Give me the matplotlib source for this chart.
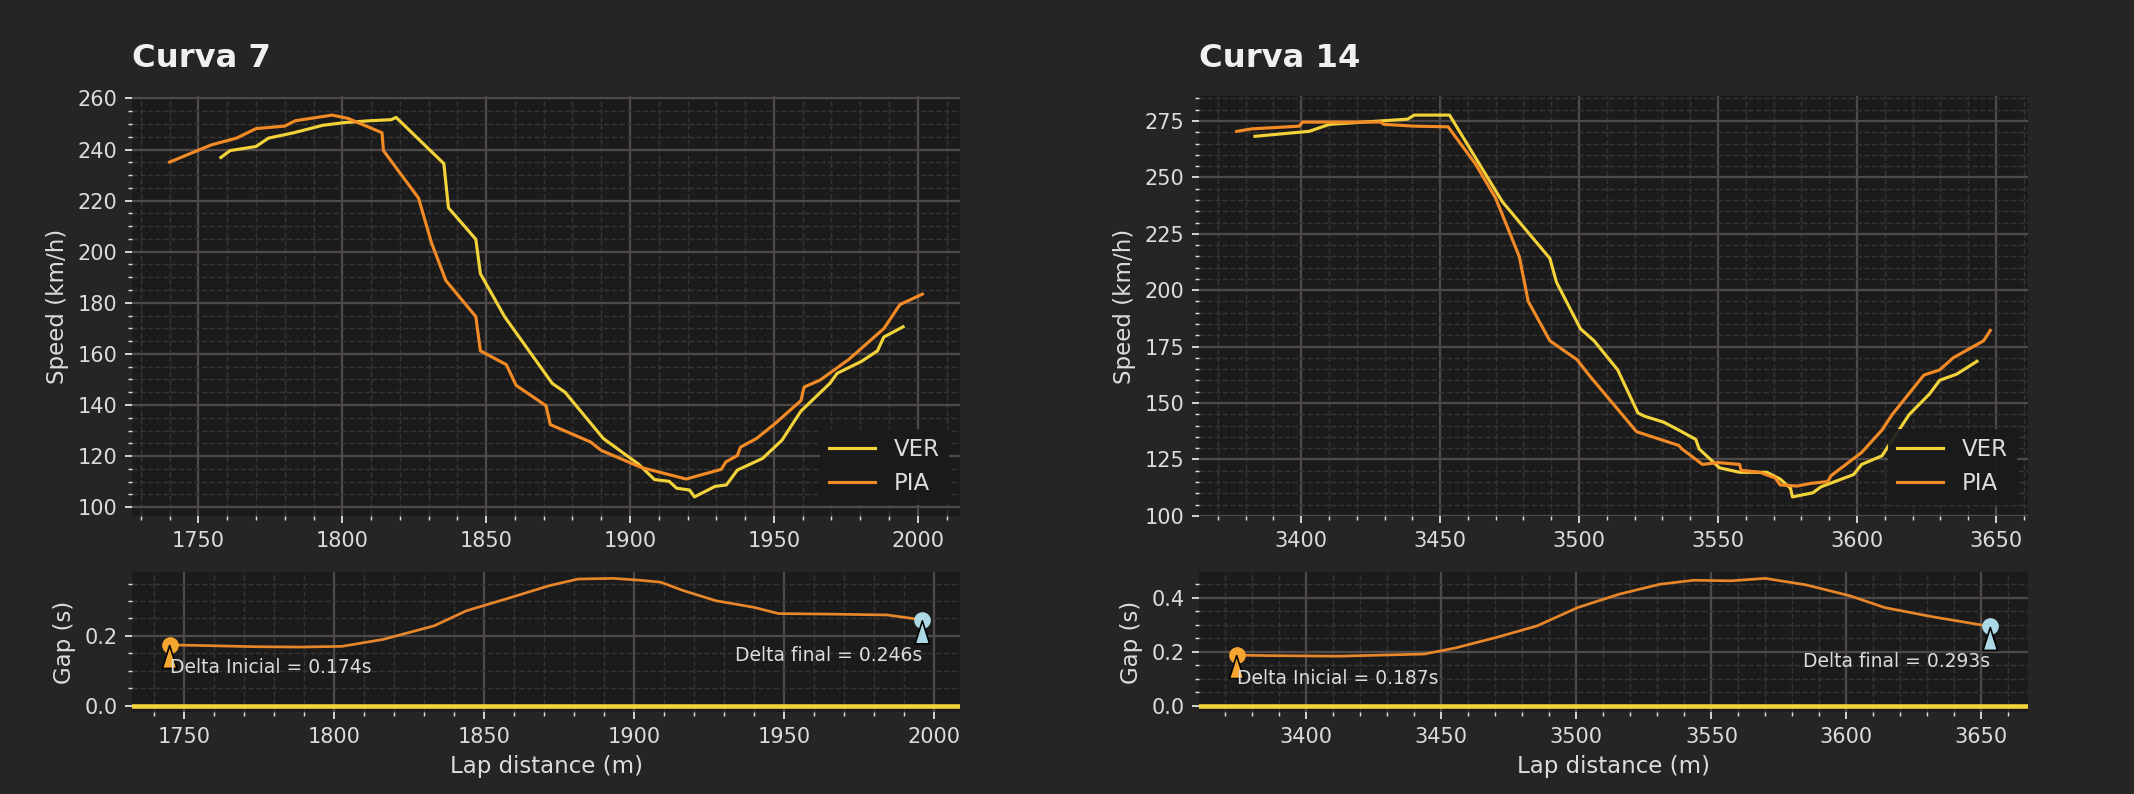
import matplotlib
matplotlib.use("Agg")
import matplotlib.pyplot as plt
from matplotlib.ticker import AutoMinorLocator

# ---------------- data ----------------
c7_ver_dist = [1757.8, 1761, 1770, 1774.4, 1783.2, 1793.2, 1801, 1809.8, 1817, 1818.7,
               1835.3, 1836.9, 1846.4, 1848, 1856.4, 1873, 1877.4, 1890.7, 1903, 1908.5,
               1913.6, 1916.2, 1920.7, 1922.4, 1929.5, 1933.5, 1937.3, 1946.1, 1952.8,
               1959.4, 1969.4, 1972, 1980.5, 1986, 1988.2, 1994.9]
c7_ver_speed = [236.9, 239.6, 241.2, 244.5, 246.6, 249.5, 250.6, 251.3, 251.7, 252.6,
                234.5, 217.2, 204.9, 191.4, 174.6, 148.4, 145, 126.9, 116.8, 110.8,
                110.1, 107.4, 106.7, 104, 108.1, 108.7, 114.5, 119.1, 126.2,
                137.6, 148.4, 152.4, 157.1, 161.2, 166.6, 170.6]
c7_pia_dist = [1740, 1754.4, 1763.3, 1770, 1780, 1783.7, 1796.5, 1802, 1813.8, 1814.3,
               1826.5, 1831, 1836, 1846.4, 1848, 1857, 1860.4, 1870.8, 1872.3, 1886.3,
               1890, 1904, 1919.5, 1931.7, 1933.3, 1937.3, 1938.4, 1944, 1950.6, 1959.4,
               1960.5, 1966, 1976, 1988.2, 1993.8, 2001.6]
c7_pia_speed = [235.1, 241.8, 244.5, 248.2, 249.2, 251.3, 253.5, 252.2, 246.6, 239.6,
                221, 203.5, 188.7, 174.6, 161.2, 155.8, 147.7, 139.7, 132.3, 125.5,
                122.2, 115.5, 111, 114.8, 117.7, 120.2, 123.5, 126.9, 132.9, 141.7,
                147, 149.7, 157.8, 169.9, 179.3, 183.4]
c7_gap_dist = [1745.3, 1752.8, 1774, 1789, 1802.7, 1816.5, 1833.5, 1844.2, 1859, 1871.8,
               1881.4, 1893, 1901.6, 1909, 1916.5, 1927.3, 1940, 1948.3, 1965.3, 1984.5,
               1996.2]
c7_gap = [0.174, 0.173, 0.169, 0.168, 0.170, 0.19, 0.229, 0.272, 0.31, 0.344,
          0.363, 0.365, 0.36, 0.354, 0.33, 0.301, 0.282, 0.264, 0.2625, 0.26, 0.246]

c14_ver_dist = [3383.4, 3399.3, 3402.9, 3410.2, 3418.8, 3438.3, 3440.7, 3453.4, 3472.4,
                3489.5, 3491.9, 3500.5, 3505.4, 3513.9, 3521.2, 3523.7, 3530.5, 3535.9,
                3542, 3543.2, 3550.5, 3557.8, 3567.6, 3572.4, 3576.1, 3576.8, 3584.1,
                3587.1, 3598.8, 3601.7, 3609, 3618.8, 3626.1, 3629.8, 3635.9, 3643.2]
c14_ver_speed = [268.2, 270, 270.4, 273.5, 274.2, 275.8, 277.6, 277.6, 239.2,
                 214.1, 203.5, 182.9, 177.6, 164.7, 145.6, 144.1, 141.5, 138,
                 133.9, 129.7, 121.3, 119.3, 119.3, 116.3, 112.2, 108.4, 110.2,
                 112.9, 118.3, 122.8, 126.6, 144.9, 154, 160.1, 162.8, 168.5]
c14_pia_dist = [3376.8, 3382.2, 3389.5, 3399.3, 3400.5, 3418.8, 3428.5, 3429.8, 3440.7,
                3452.9, 3462.7, 3470, 3478.5, 3481.7, 3489.5, 3499.3, 3504.1, 3520.7,
                3535.9, 3537, 3544.4, 3550, 3557.8, 3558.3, 3565.1, 3570.7, 3572.4,
                3578.5, 3583.4, 3589.5, 3590.7, 3601.7, 3609, 3612.7, 3624.1, 3629.8,
                3634.6, 3645.6, 3648]
c14_pia_speed = [270.4, 271.5, 272, 272.7, 274.5, 274.5, 274.5, 273.5, 272.7,
                 272.4, 256, 240.8, 214.9, 195.1, 177.6, 169.2, 161.6, 137.3,
                 131.2, 129.7, 122.8, 123.6, 122.8, 120.2, 119.3, 116.7, 113.7,
                 113.2, 114.4, 115.2, 117.8, 128.1, 138, 144.9, 162.4, 164.7,
                 170, 177.6, 182.2]
c14_gap_dist = [3374.2, 3386.9, 3412, 3443.7, 3455, 3470.2, 3485.4, 3500.5, 3515.7,
                3530.8, 3543.4, 3557.3, 3570, 3585, 3601.5, 3614.1, 3631.8, 3653.3]
c14_gap = [0.187, 0.185, 0.183, 0.191, 0.213, 0.252, 0.295, 0.363, 0.412,
           0.449, 0.464, 0.462, 0.471, 0.447, 0.406, 0.363, 0.329, 0.293]

titles = ["Curva 7", "Curva 14"]
drivers = ["VER", "PIA"]

# ---------------- style ----------------
FIG_BG = "#262524"
AX_BG = "#1c1b1b"
TXT = "#dcdcdc"
YEL = "#f2d33a"
ORA = "#f28a26"
GAP_ORA = "#e8862a"
START_C = "#f5a630"
LBLUE = "#add8e6"

plt.rcParams.update({
    "font.family": ["DejaVu Sans"],
    "text.color": TXT,
    "axes.labelcolor": TXT,
    "xtick.color": TXT,
    "ytick.color": TXT,
    "xtick.labelsize": 10,
    "ytick.labelsize": 10,
    "axes.labelsize": 11,
})

fig = plt.figure(figsize=(2134 / 150, 794 / 150), dpi=150, facecolor=FIG_BG)

W, H = 2134, 794
def frac(x0, y_top, x1, y_bot):
    return [x0 / W, 1 - y_bot / H, (x1 - x0) / W, (y_bot - y_top) / H]

cols = [(132, 960), (1199, 2028)]
datasets = [
    (c7_ver_dist, c7_ver_speed, c7_pia_dist, c7_pia_speed, c7_gap_dist, c7_gap),
    (c14_ver_dist, c14_ver_speed, c14_pia_dist, c14_pia_speed, c14_gap_dist, c14_gap),
]

def style_ax(ax):
    ax.set_facecolor(AX_BG)
    for s in ax.spines.values():
        s.set_visible(False)
    ax.xaxis.set_minor_locator(AutoMinorLocator())
    ax.yaxis.set_minor_locator(AutoMinorLocator())
    ax.grid(which="major", color="#4f4a4a", lw=1.1, ls="-")
    ax.grid(which="minor", color="#363333", lw=0.7, ls="--")
    ax.set_axisbelow(True)
    ax.tick_params(which="major", length=3.5, width=0.9, colors=TXT)
    ax.tick_params(which="minor", length=2, width=0.7, colors=TXT)

arrow_kw = dict(edgecolor="black", lw=0.8, width=2, headwidth=7,
                headlength=11, shrink=0.04)

for i, (x0, x1) in enumerate(cols):
    vd, vs, pd_, ps, gd, g = datasets[i]
    ax = fig.add_axes(frac(x0, 96, x1, 516))
    axg = fig.add_axes(frac(x0, 572, x1, 712))
    style_ax(ax)
    style_ax(axg)

    ax.plot(vd, vs, color=YEL, lw=1.5, label=drivers[0])
    ax.plot(pd_, ps, color=ORA, lw=1.5, label=drivers[1])
    ax.set_ylabel("Speed (km/h)")
    ax.set_title(titles[i], loc="left", pad=14, fontsize=15.5,
                 fontweight="bold", color="#f0f0f0")
    ax.legend(loc="lower right", fontsize=11, facecolor="#1a1a1a",
              edgecolor="none", framealpha=0.92, labelcolor=TXT)

    axg.axhline(0, color=YEL, lw=2.2)
    axg.plot(gd, g, color=GAP_ORA, lw=1.3)
    axg.plot(gd[0], g[0], "o", color=START_C, ms=7, zorder=5)
    axg.plot(gd[-1], g[-1], "o", color=LBLUE, ms=7, zorder=5)
    axg.annotate(f"Delta Inicial = {g[0]:.3f}s", xy=(gd[0], g[0]),
                 xytext=(0, -11), textcoords="offset points",
                 ha="left", va="center", fontsize=9, color=TXT, zorder=6,
                 arrowprops=dict(facecolor=START_C, **arrow_kw))
    axg.annotate(f"Delta final = {g[-1]:.3f}s", xy=(gd[-1], g[-1]),
                 xytext=(0, -17), textcoords="offset points",
                 ha="right", va="center", fontsize=9, color=TXT, zorder=6,
                 arrowprops=dict(facecolor=LBLUE, **arrow_kw))
    axg.set_ylabel("Gap (s)")
    axg.set_xlabel("Lap distance (m)")

fig.savefig("out.png", dpi=150, facecolor=FIG_BG)
